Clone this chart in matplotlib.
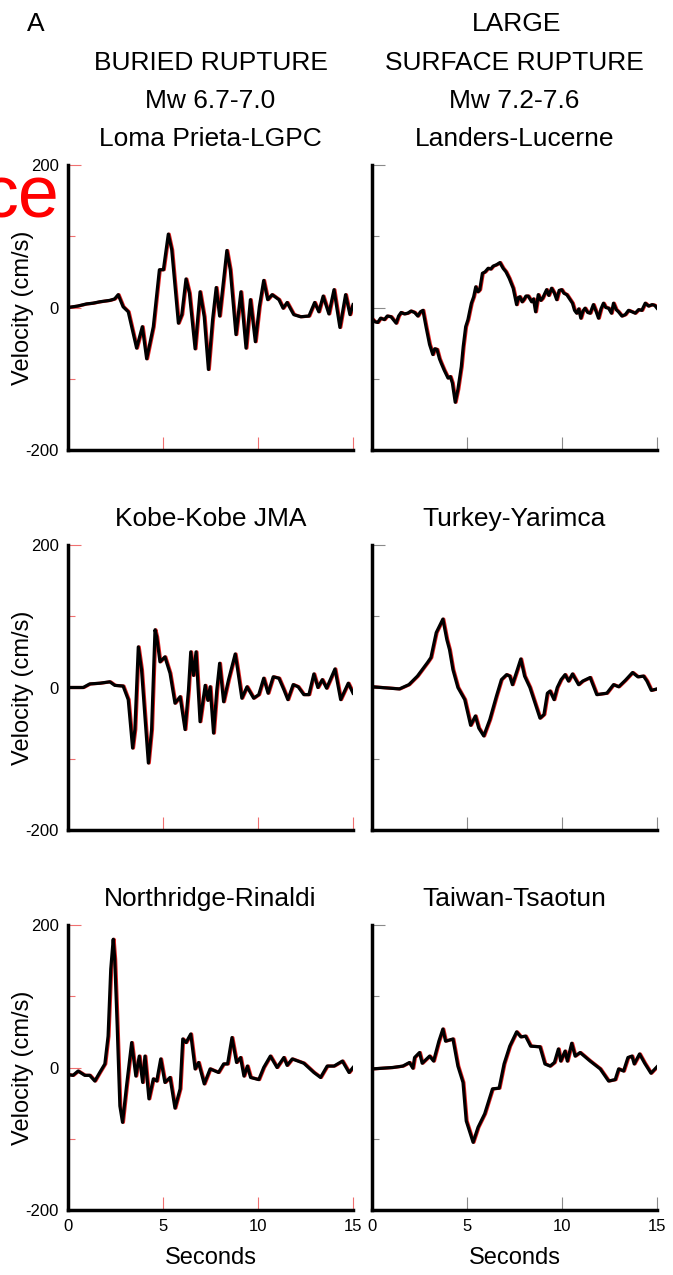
import matplotlib
matplotlib.use("Agg")
from matplotlib import pyplot as plt
from matplotlib import transforms

plt.rcParams['font.family'] = ['Liberation Sans', 'DejaVu Sans']
plt.rcParams['axes.unicode_minus'] = False

W, H = 673, 1275

# velocity traces (seconds, cm/s)
loma_t = [0.0, 0.5, 0.97, 1.3, 1.67, 2.2, 2.45, 2.64, 2.9, 3.17, 3.61, 3.91, 4.14, 4.49, 4.81, 5.02, 5.28,
          5.46, 5.81, 5.99, 6.21, 6.39, 6.69, 6.95, 7.17, 7.39, 7.61, 7.8, 7.98, 8.15, 8.36, 8.54, 8.84,
          9.1, 9.37, 9.6, 9.86, 10.07, 10.3, 10.51, 10.74, 11.1, 11.32, 11.53, 11.88, 12.24, 12.68,
          12.98, 13.2, 13.43, 13.73, 14.0, 14.31, 14.61, 14.84, 15.0]
loma_v = [0, 2, 5, 6, 8, 10, 12, 18, 1, -6, -57, -27, -72, -27, 53, 53, 103,
          81, -22, -10, 40, 20, -58, 22, -13, -87, -17, 28, -12, 29, 80, 53, -38,
          22, -57, 11, -48, 1, 38, 11, 18, 11, -1, 7, -10, -13, -12,
          7, -6, 16, -9, 25, -28, 18, -10, 4]

landers_t = [0.0, 0.15, 0.3, 0.45, 0.65, 0.8, 1.0, 1.15, 1.27, 1.4, 1.53, 1.7, 1.88, 2.05, 2.24, 2.41,
             2.55, 2.68, 2.85, 3.03, 3.2, 3.3, 3.42, 3.55, 3.64, 3.8, 4.0, 4.12, 4.23, 4.38, 4.52, 4.7,
             4.8, 4.93, 5.05, 5.15, 5.23, 5.35, 5.46, 5.57, 5.67, 5.81, 5.95, 6.11, 6.25, 6.37, 6.55,
             6.73, 6.9, 7.05, 7.22, 7.43, 7.61, 7.7, 7.78, 7.9, 7.99, 8.1, 8.22, 8.4, 8.5, 8.61, 8.75,
             8.88, 8.98, 9.1, 9.19, 9.3, 9.45, 9.6, 9.72, 9.85, 9.98, 10.1, 10.25, 10.4, 10.55, 10.66,
             10.77, 10.88, 10.99, 11.1, 11.21, 11.35, 11.48, 11.65, 11.8, 11.92, 12.05, 12.18, 12.3,
             12.45, 12.6, 12.71, 12.85, 12.97, 13.15, 13.33, 13.5, 13.68, 13.85, 14.03, 14.2, 14.38,
             14.55, 14.74, 14.88, 15.0]
landers_v = [-16, -20, -21, -15, -17, -12, -13, -18, -22, -12, -7, -9, -8, -5, -7, -12,
             -6, -4, -28, -52, -66, -58, -59, -72, -78, -88, -99, -97, -106, -133, -115, -83,
             -55, -27, -17, -4, 6, 15, 29, 22, 25, 48, 50, 55, 54, 58, 60,
             63, 55, 50, 41, 27, 4, 14, 15, 8, 11, 16, 16, 8, 12, -6, 18,
             10, 13, 20, 25, 17, 27, 20, 11, 24, 25, 20, 18, 12, 6, -4,
             -8, -2, -15, -5, -1, -7, -8, 4, -6, -15, -2, 6, 0,
             -1, -8, 6, -3, -6, -12, -10, -4, -6, -8, -3, -4, 6,
             2, 4, 3, -1]

kobe_t = [0.0, 0.8, 1.14, 1.67, 2.2, 2.46, 2.9, 3.17, 3.4, 3.52, 3.7, 3.87, 4.05, 4.23, 4.4, 4.58, 4.67,
          4.84, 5.1, 5.37, 5.63, 5.9, 6.16, 6.34, 6.46, 6.6, 6.74, 6.95, 7.22, 7.36, 7.48, 7.66, 7.83,
          7.98, 8.19, 8.45, 8.8, 8.93, 9.15, 9.42, 9.77, 10.04, 10.3, 10.53, 10.8, 11.1, 11.36, 11.57,
          11.85, 12.11, 12.41, 12.68, 12.94, 13.15, 13.38, 13.61, 14.05, 14.35, 14.75, 15.0]
kobe_v = [0, 0, 5, 6, 8, 3, 2, -17, -85, -59, 57, 25, -41, -106, -59, 81, 71,
          36, 43, 20, -22, -13, -59, -4, 50, 17, 50, -48, 3, -18, 1, -64, -4,
          34, -20, 11, 47, 25, -15, 1, -15, -10, 13, -8, 15, 13, -3, -17,
          4, 1, -10, -10, 19, 0, 11, -1, 26, -17, 6, -8]

turkey_t = [0.0, 1.44, 1.94, 2.39, 2.92, 3.1, 3.38, 3.73, 3.94, 4.08, 4.26, 4.52, 4.88, 5.19, 5.44, 5.62,
            5.88, 6.2, 6.55, 6.81, 7.08, 7.25, 7.39, 7.6, 7.83, 8.03, 8.31, 8.57, 8.84, 9.05, 9.23, 9.37,
            9.58, 9.75, 9.95, 10.16, 10.34, 10.55, 10.87, 11.09, 11.48, 11.83, 12.36, 12.71, 12.98,
            13.33, 13.71, 13.99, 14.29, 14.47, 14.7, 15.0]
turkey_v = [1, -2, 4, 16, 35, 42, 77, 96, 67, 53, 25, 0, -17, -53, -40, -57,
            -68, -45, -12, 11, 18, 16, 4, 21, 40, 16, 0, -21, -43, -38, -8, -5,
            -17, 0, 11, 18, 9, 19, 4, 9, 14, -10, -8, 4, 1,
            10, 21, 15, 16, 9, -4, -2]

northridge_t = [0.0, 0.26, 0.53, 0.88, 1.14, 1.41, 1.67, 1.94, 2.11, 2.25, 2.38, 2.46, 2.59, 2.73, 2.87,
                3.08, 3.35, 3.57, 3.75, 3.93, 4.05, 4.26, 4.49, 4.67, 4.88, 5.1, 5.37, 5.63, 5.9, 6.04,
                6.21, 6.46, 6.69, 6.87, 7.17, 7.48, 7.92, 8.19, 8.4, 8.63, 8.87, 9.08, 9.26, 9.44, 9.61,
                10.04, 10.3, 10.65, 11.0, 11.36, 11.53, 11.8, 12.41, 12.94, 13.29, 13.64, 14.0, 14.44,
                14.79, 15.0]
northridge_v = [-10, -11, -5, -11, -11, -19, -7, 5, 44, 138, 180, 152, 58, -54, -77,
                -26, 35, -12, 16, -21, 16, -44, -16, -19, 12, -21, -14, -57, -30, 40,
                35, 47, -2, 7, -23, -2, -7, 5, 5, 42, 7, 14, -12, 2, -14,
                -17, 0, 16, 0, 14, 3, 12, 6, -7, -14, 2, 2, 9,
                -7, 0]

taiwan_t = [0.0, 1.09, 1.62, 1.97, 2.15, 2.24, 2.5, 2.64, 3.03, 3.24, 3.52, 3.73, 3.87, 4.26, 4.52, 4.79,
            4.96, 5.32, 5.58, 5.93, 6.34, 6.69, 6.95, 7.25, 7.61, 7.83, 8.08, 8.35, 8.84, 9.1, 9.37, 9.6,
            9.81, 9.93, 10.16, 10.28, 10.51, 10.69, 10.95, 11.48, 12.01, 12.45, 12.8, 12.98, 13.24,
            13.47, 13.68, 13.8, 14.08, 14.35, 14.68, 15.0]
taiwan_v = [-2, 0, 2, 7, -1, 14, 21, 6, 16, 9, 37, 54, 37, 40, 2, -21,
            -75, -105, -84, -65, -30, -29, 5, 30, 50, 43, 44, 30, 29, 5, 2, 7,
            26, 9, 23, 9, 34, 16, 21, 9, -2, -19, -17, -2, -5,
            14, 16, 5, 19, 6, -8, 1]

stations = [
    ("Loma Prieta-LGPC", loma_t, loma_v),
    ("Landers-Lucerne", landers_t, landers_v),
    ("Kobe-Kobe JMA", kobe_t, kobe_v),
    ("Turkey-Yarimca", turkey_t, turkey_v),
    ("Northridge-Rinaldi", northridge_t, northridge_v),
    ("Taiwan-Tsaotun", taiwan_t, taiwan_v),
]

col_left = [68, 372]
row_top = [165, 545, 925]
size = 285

fig = plt.figure(figsize=(W / 100, H / 100), dpi=100)

def fx(px):
    return px / W

def fy(py):
    return 1 - py / H

for i, (name, t, v) in enumerate(stations):
    row, col = divmod(i, 2)
    x0, y0 = col_left[col], row_top[row]
    ax = fig.add_axes([fx(x0), fy(y0 + size), size / W, size / H])

    # faint red fringe under the trace
    shift = transforms.offset_copy(ax.transData, fig=fig, x=0.9, y=0, units='dots')
    ax.plot(t, v, color='#e02020', lw=2.3, transform=shift, solid_joinstyle='round')
    ax.plot(t, v, color='black', lw=2.3, solid_joinstyle='round')

    ax.set_xlim(0, 15)
    ax.set_ylim(-200, 200)
    ax.set_xticks([0, 5, 10, 15])
    ax.set_yticks([-200, 0, 200])
    ax.set_yticks([-100, 100], minor=True)
    tc = '#f07070' if col == 0 else '#8a8a8a'
    ax.tick_params(which='major', direction='in', length=9.5, width=0.8, color=tc,
                   labelsize=12, pad=6.5, top=False, right=False)
    ax.tick_params(which='minor', direction='in', length=5, width=0.8, color=tc,
                   top=False, right=False)
    ax.tick_params(axis='x', which='minor', bottom=False)
    for s in ('top', 'right'):
        ax.spines[s].set_visible(False)
    for s in ('left', 'bottom'):
        ax.spines[s].set_linewidth(2.5)
        ax.spines[s].set_color('black')

    if col == 0:
        ax.set_ylabel('Velocity (cm/s)', fontsize=17)
        ax.yaxis.set_label_coords(-0.12, 0.5)
    else:
        ax.tick_params(labelleft=False)
    if row < 2:
        ax.tick_params(labelbottom=False)
    else:
        ax.set_xlabel('Seconds', fontsize=17)
        ax.xaxis.set_label_coords(0.5, -0.13)

    cx = x0 + size / 2
    fig.text(fx(cx), fy(y0 - 19), name, ha='center', va='baseline', fontsize=19)

# column headers
fig.text(fx(36), fy(31), 'A', ha='center', va='baseline', fontsize=19)
fig.text(fx(517), fy(31), 'LARGE', ha='center', va='baseline', fontsize=19)
fig.text(fx(210.5), fy(70), 'BURIED RUPTURE', ha='center', va='baseline', fontsize=19)
fig.text(fx(514.5), fy(70), 'SURFACE RUPTURE', ha='center', va='baseline', fontsize=19)
fig.text(fx(210.5), fy(108), 'Mw 6.7-7.0', ha='center', va='baseline', fontsize=19)
fig.text(fx(514.5), fy(108), 'Mw 7.2-7.6', ha='center', va='baseline', fontsize=19)

fig.text(fx(60), fy(218), 'ce', ha='right', va='baseline', fontsize=53, color='red')

fig.savefig('out.png', dpi=100)
